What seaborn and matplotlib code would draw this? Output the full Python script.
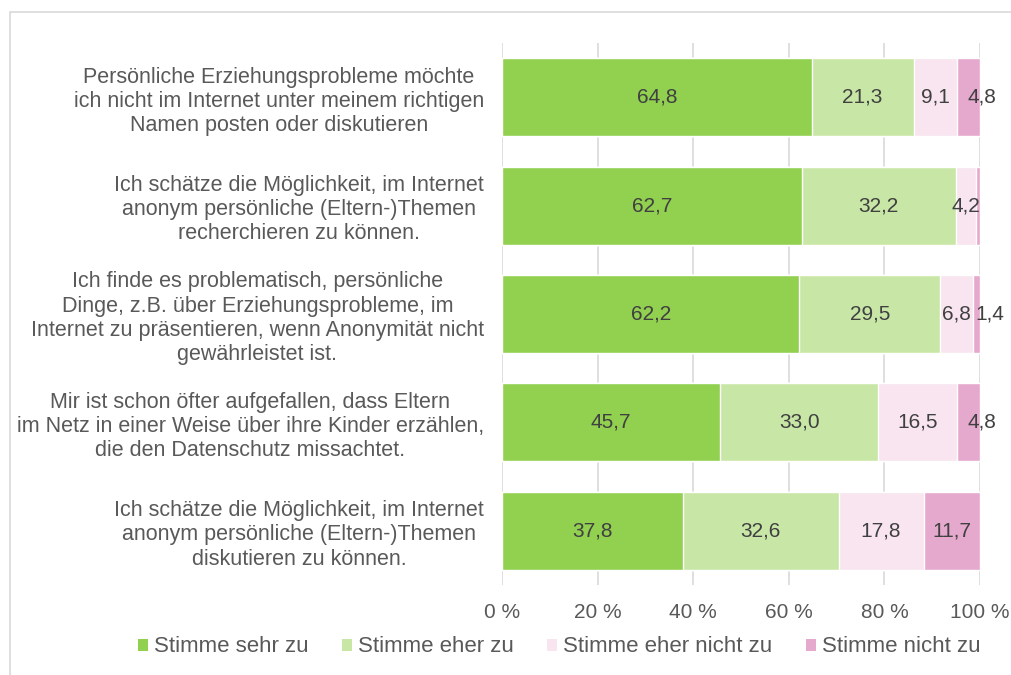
import numpy as np
import pandas as pd
import matplotlib.pyplot as plt
import seaborn as sns
from matplotlib.patches import Rectangle, Patch

sns.set_theme(style="white")
plt.rcParams['font.family'] = ['Liberation Sans', 'DejaVu Sans']

# Aussagen (Kategorien)
statements = [
    "Persönliche Erziehungsprobleme möchte\nich nicht im Internet unter meinem richtigen\nNamen posten oder diskutieren",
    "Ich schätze die Möglichkeit, im Internet\nanonym persönliche (Eltern-)Themen\nrecherchieren zu können.",
    "Ich finde es problematisch, persönliche\nDinge, z.B. über Erziehungsprobleme, im\nInternet zu präsentieren, wenn Anonymität nicht\ngewährleistet ist.",
    "Mir ist schon öfter aufgefallen, dass Eltern\nim Netz in einer Weise über ihre Kinder erzählen,\ndie den Datenschutz missachtet.",
    "Ich schätze die Möglichkeit, im Internet\nanonym persönliche (Eltern-)Themen\ndiskutieren zu können.",
]

# Anteile in %
sehr_zu = [64.8, 62.7, 62.2, 45.7, 37.8]
eher_zu = [21.3, 32.2, 29.5, 33.0, 32.6]
eher_nicht_zu = [9.1, 4.2, 6.8, 16.5, 17.8]
nicht_zu = [4.8, 0.9, 1.4, 4.8, 11.7]

series_names = ["Stimme sehr zu", "Stimme eher zu", "Stimme eher nicht zu", "Stimme nicht zu"]
colors = ["#92D050", "#C8E7A6", "#F8E5F0", "#E4A9CD"]
xtick_labels = ["0 %", "20 %", "40 %", "60 %", "80 %", "100 %"]

text_col = "#595959"

df = pd.DataFrame({
    "Aussage": statements,
    series_names[0]: sehr_zu,
    series_names[1]: eher_zu,
    series_names[2]: eher_nicht_zu,
    series_names[3]: nicht_zu,
})

fig = plt.figure(figsize=(10.11, 6.75), dpi=100)
ax = fig.add_axes([502 / 1011, 1 - 585 / 675, 478 / 1011, 542 / 675])

# gestapelte Balken: kumulierte Summen von hinten nach vorne zeichnen
values = df[series_names].to_numpy()
cum = np.cumsum(values, axis=1)
for i in reversed(range(len(series_names))):
    sns.barplot(x=cum[:, i], y=df["Aussage"], orient="h", color=colors[i],
                saturation=1, width=0.72, errorbar=None, ax=ax, zorder=2)

# Datenbeschriftungen (kleine Werte der letzten Reihe etwas nach rechts versetzt)
last = len(series_names) - 1
for i in range(len(series_names)):
    for j in range(len(statements)):
        v = values[j, i]
        if v < 1:
            continue
        xc = cum[j, i] - v / 2
        dx = 10 if (i == last and v < 5) else 0
        ax.annotate(f"{v:.1f}".replace(".", ","), (xc, j), xytext=(dx, 0),
                    textcoords="offset points", ha="center", va="center",
                    fontsize=15, color="#404040", zorder=3)

ax.set_xlim(0, 100)
ax.set_ylim(4.5, -0.5)
ax.set_xticks([0, 20, 40, 60, 80, 100])
ax.set_xticklabels(xtick_labels, fontsize=15, color=text_col)
ax.set_yticks(range(len(statements)))
ax.set_yticklabels(statements, fontsize=15.5, color=text_col,
                   multialignment="center", linespacing=1.2)
ax.tick_params(axis="both", length=0)
ax.tick_params(axis="x", pad=13)
ax.tick_params(axis="y", pad=13)
ax.set_xlabel("")
ax.set_ylabel("")
ax.xaxis.grid(True, color="#D9D9D9", linewidth=1.2, zorder=0)
ax.yaxis.grid(False)
ax.set_axisbelow(True)
for s in ax.spines.values():
    s.set_visible(False)

# Legende
handles = [Patch(facecolor=c, edgecolor="none") for c in colors]
fig.legend(handles, series_names, loc="center", bbox_to_anchor=(0.553, 1 - 647 / 675),
           ncol=4, frameon=False, fontsize=16, labelcolor=text_col,
           handlelength=0.45, handleheight=0.45, handletextpad=0.27,
           columnspacing=1.5)

# Diagrammrahmen
fig.patches.append(Rectangle((10 / 1011, -0.1), 1.2, 1.1 - 12 / 675,
                             transform=fig.transFigure, fill=False,
                             edgecolor="#D9D9D9", linewidth=1.2))

fig.savefig("out.png", dpi=100)
